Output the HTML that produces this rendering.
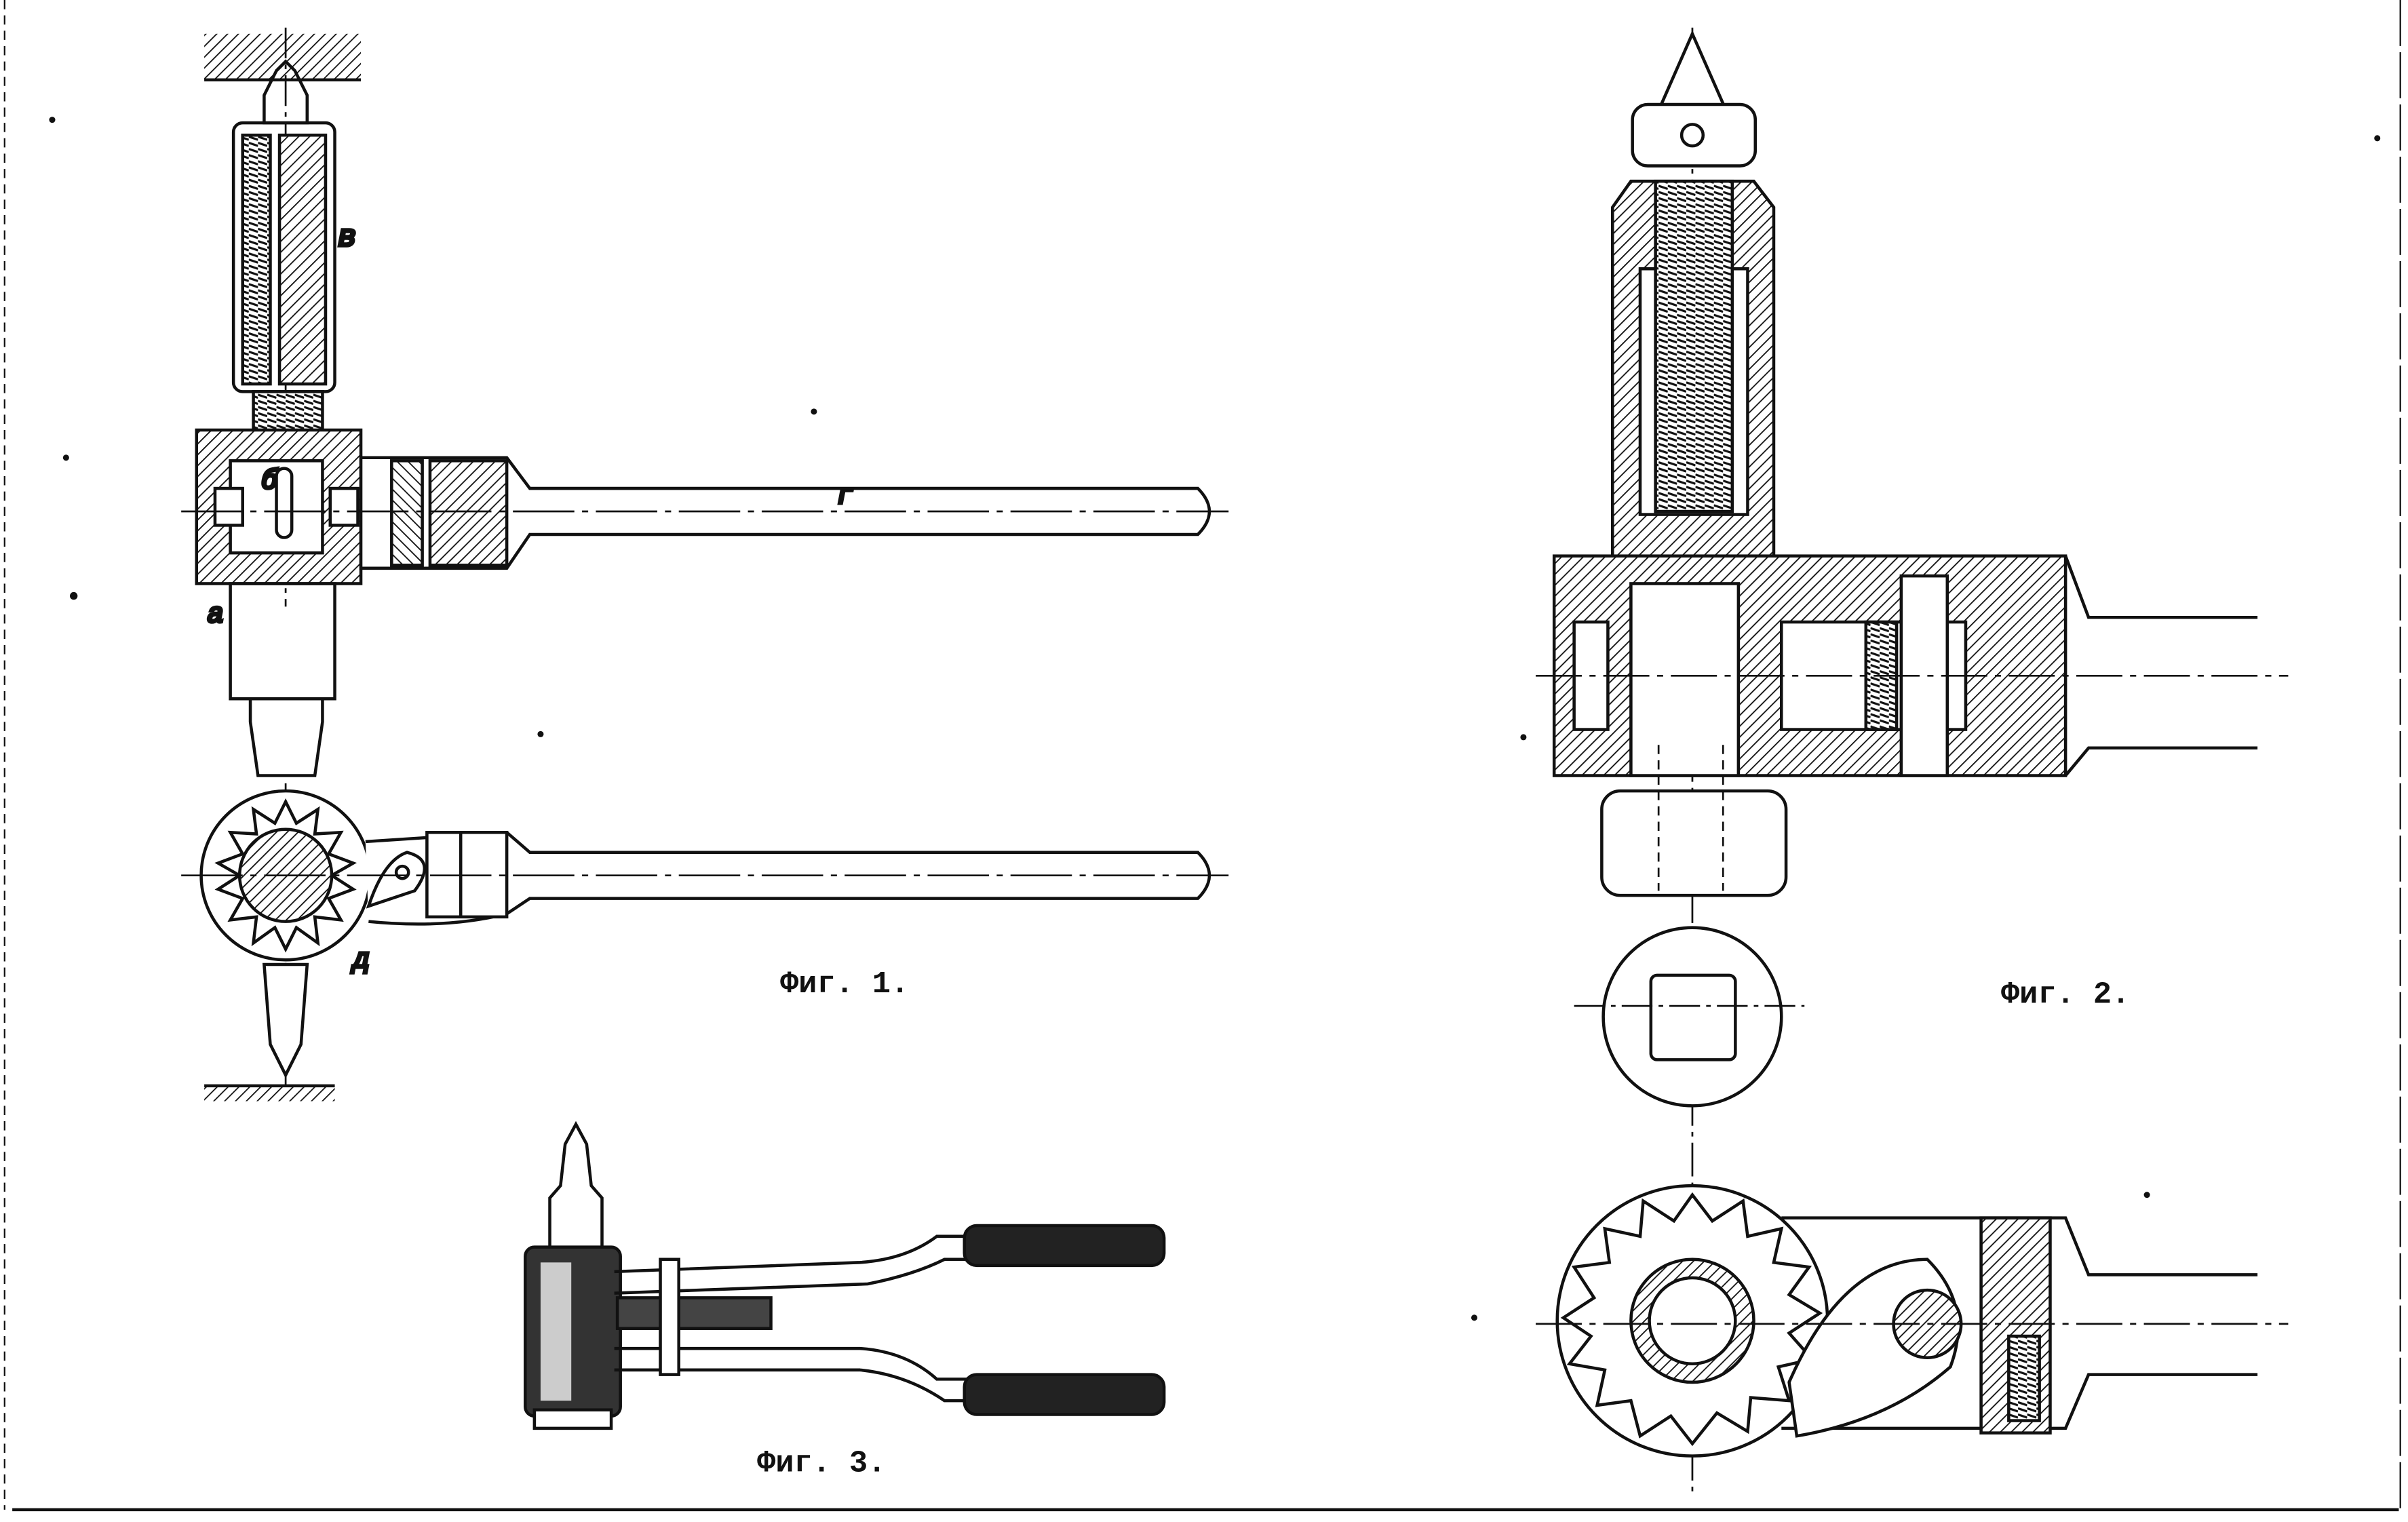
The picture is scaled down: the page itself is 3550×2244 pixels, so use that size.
<!DOCTYPE html>
<html><head><meta charset="utf-8">
<style>
html,body{margin:0;padding:0;background:#fff;}
svg{display:block;}
text{font-family:"Liberation Mono","DejaVu Sans Mono",monospace;fill:#111;}
</style></head>
<body>
<svg width="3550" height="2244" viewBox="0 0 1568 991" preserveAspectRatio="none" xmlns="http://www.w3.org/2000/svg">
<defs>
<pattern id="h" width="5" height="5" patternUnits="userSpaceOnUse" patternTransform="rotate(45)">
<rect width="5" height="5" fill="#fff"/><line x1="0" y1="0" x2="0" y2="5" stroke="#111" stroke-width="1.6"/>
</pattern>
<pattern id="h2" width="5" height="5" patternUnits="userSpaceOnUse" patternTransform="rotate(-45)">
<rect width="5" height="5" fill="#fff"/><line x1="0" y1="0" x2="0" y2="5" stroke="#111" stroke-width="1.6"/>
</pattern>
<pattern id="th" width="6" height="4" patternUnits="userSpaceOnUse">
<rect width="6" height="4" fill="#fff"/><line x1="0" y1="1" x2="6" y2="3" stroke="#111" stroke-width="1.4"/>
</pattern>
</defs>
<rect width="1568" height="991" fill="#fff"/>
<g fill="none" stroke="#111" stroke-width="2">
<!-- border -->
<line x1="8" y1="983" x2="1562" y2="983"/>
<line x1="3" y1="0" x2="3" y2="983" stroke-dasharray="6 4" stroke-width="1"/>
<line x1="1563" y1="0" x2="1563" y2="983" stroke-dasharray="30 4" stroke-width="1"/>

<!-- ===== FIG 1 top ===== -->
<rect x="133" y="22" width="102" height="30" fill="url(#h)" stroke="none"/>
<line x1="133" y1="52" x2="235" y2="52"/>
<line x1="186" y1="18" x2="186" y2="395" stroke-dasharray="20 4 3 4" stroke-width="1.2"/>
<path d="M180 46 L186 40 L192 46 L200 62 L200 80 L172 80 L172 62 Z"/>
<rect x="152" y="80" width="66" height="175" rx="6"/>
<rect x="158" y="88" width="18" height="162" fill="url(#th)"/>
<rect x="182" y="88" width="30" height="162" fill="url(#h)"/>
<rect x="165" y="255" width="45" height="28" fill="url(#th)"/>
<text x="220" y="160" font-size="20" font-style="italic">в</text>
<rect x="128" y="280" width="107" height="100" fill="url(#h)"/>
<rect x="150" y="300" width="60" height="60" fill="#fff"/>
<rect x="140" y="318" width="18" height="24" fill="#fff"/>
<rect x="215" y="318" width="18" height="24" fill="#fff"/>
<rect x="180" y="305" width="10" height="45" rx="5" fill="#fff"/>
<text x="170" y="318" font-size="18" font-style="italic">б</text>
<path d="M235 298 L330 298 L345 318 L780 318 Q795 333 780 348 L345 348 L330 370 L235 370 Z" fill="#fff"/>
<rect x="280" y="300" width="50" height="68" fill="url(#h)"/>
<rect x="255" y="300" width="20" height="68" fill="url(#h2)"/>
<line x1="118" y1="333" x2="800" y2="333" stroke-dasharray="40 5 4 5" stroke-width="1.2"/>
<text x="545" y="328" font-size="18" font-style="italic">г</text>
<path d="M150 380 L218 380 L218 455 L150 455 Z"/>
<path d="M163 455 L163 470 L168 505 L205 505 L210 470 L210 455"/>
<text x="135" y="405" font-size="18" font-style="italic">а</text>

<!-- FIG 1 lower -->
<line x1="186" y1="510" x2="186" y2="715" stroke-dasharray="20 4 3 4" stroke-width="1.2"/>
<circle cx="186" cy="570" r="55" fill="#fff"/>
<polygon points="186,522 193,536 207,527 205,543 222,542 214,556 230,562 216,570 230,579 214,585 222,599 205,597 207,614 193,604 186,618 179,604 165,614 167,597 150,599 158,585 142,579 156,570 142,562 158,556 150,542 167,543 165,527 179,536" fill="#fff"/>
<circle cx="186" cy="570" r="30" fill="url(#h)"/>
<path d="M238 548 L330 542 L345 555 L780 555 Q795 570 780 585 L345 585 L330 595 Q290 605 240 600" fill="#fff"/>
<path d="M240 590 Q250 560 265 555 Q285 560 270 580 Z" fill="#fff"/>
<circle cx="262" cy="568" r="4"/>
<rect x="278" y="542" width="52" height="55" fill="#fff"/>
<line x1="300" y1="542" x2="300" y2="597"/>
<line x1="118" y1="570" x2="800" y2="570" stroke-dasharray="40 5 4 5" stroke-width="1.2"/>
<text x="230" y="630" font-size="18" font-style="italic">д</text>
<path d="M172 628 L200 628 L196 680 L186 700 L176 680 Z" fill="#fff"/>
<rect x="133" y="707" width="85" height="10" fill="url(#h)" stroke="none"/>
<line x1="133" y1="707" x2="218" y2="707"/>
<text x="508" y="646" font-size="20" font-weight="bold" stroke="none">Фиг. 1.</text>

<!-- ===== FIG 2 ===== -->
<line x1="1102" y1="18" x2="1102" y2="975" stroke-dasharray="22 4 3 4" stroke-width="1.2"/>
<path d="M1102 22 L1080 72 L1124 72 Z" fill="#fff"/>
<rect x="1063" y="68" width="80" height="40" rx="10" fill="#fff"/>
<circle cx="1102" cy="88" r="7"/>
<path d="M1050 135 L1062 118 L1142 118 L1155 135 L1155 365 L1050 365 Z" fill="url(#h)"/>
<rect x="1068" y="175" width="70" height="160" fill="#fff"/>
<rect x="1078" y="118" width="50" height="215" fill="url(#th)"/>
<rect x="1012" y="362" width="333" height="143" fill="url(#h)"/>
<rect x="1025" y="405" width="22" height="70" fill="#fff"/>
<rect x="1160" y="405" width="120" height="70" fill="#fff"/>
<rect x="1215" y="405" width="20" height="70" fill="url(#th)"/>
<rect x="1238" y="375" width="30" height="130" fill="#fff"/>
<rect x="1062" y="380" width="70" height="125" fill="#fff"/>
<path d="M1345 362 L1360 402 L1470 402 M1345 505 L1360 487 L1470 487" />
<line x1="1000" y1="440" x2="1490" y2="440" stroke-dasharray="30 5 4 5" stroke-width="1.2"/>
<rect x="1043" y="515" width="120" height="68" rx="12" fill="#fff"/>
<path d="M1080 485 L1080 580 M1122 485 L1122 580" stroke-dasharray="6 4" stroke-width="1.2"/>
<circle cx="1102" cy="662" r="58" fill="#fff"/>
<rect x="1075" y="635" width="55" height="55" rx="4"/>
<line x1="1025" y1="655" x2="1175" y2="655" stroke-dasharray="20 4 3 4" stroke-width="1.2"/>
<text x="1303" y="653" font-size="20" font-weight="bold" stroke="none">Фиг. 2.</text>

<!-- FIG 2 lower -->
<circle cx="1102" cy="860" r="88" fill="#fff"/>
<polygon points="1102,778 1115,795 1135,782 1138,805 1160,800 1155,822 1178,825 1165,843 1185,855 1165,868 1180,885 1158,890 1165,912 1140,910 1138,932 1118,920 1102,940 1088,922 1068,935 1062,912 1040,915 1045,892 1022,888 1036,870 1018,858 1038,845 1025,825 1048,822 1045,800 1068,805 1070,782 1090,795" fill="#fff"/>
<circle cx="1102" cy="860" r="40" fill="url(#h)"/>
<circle cx="1102" cy="860" r="28" fill="#fff"/>
<path d="M1160 793 L1345 793 L1360 830 L1470 830 M1160 930 L1345 930 L1360 895 L1470 895"/>
<path d="M1165 900 Q1200 820 1255 820 Q1285 850 1270 890 Q1230 925 1170 935 Z" fill="#fff"/>
<circle cx="1255" cy="862" r="22" fill="url(#h)"/>
<rect x="1290" y="793" width="45" height="140" fill="url(#h)"/>
<rect x="1308" y="870" width="20" height="55" fill="url(#th)"/>
<line x1="1000" y1="862" x2="1490" y2="862" stroke-dasharray="30 5 4 5" stroke-width="1.2"/>

<!-- ===== FIG 3 ===== -->
<path d="M368 745 L375 732 L382 745 L385 772 L392 780 L392 815 L358 815 L358 780 L365 772 Z" fill="#fff"/>
<rect x="342" y="812" width="62" height="110" rx="6" fill="#333"/>
<rect x="352" y="822" width="20" height="90" fill="#ccc" stroke="none"/>
<rect x="348" y="918" width="50" height="12" fill="#fff"/>
<path d="M400 828 L560 822 Q590 820 610 805 L640 805 M400 842 L565 836 Q595 830 615 820 L640 820" />
<rect x="628" y="798" width="130" height="26" rx="8" fill="#222"/>
<path d="M400 878 L560 878 Q590 880 610 898 L640 898 M400 892 L560 892 Q590 895 615 912 L640 912"/>
<rect x="628" y="895" width="130" height="26" rx="8" fill="#222"/>
<rect x="402" y="845" width="100" height="20" fill="#444"/>
<rect x="430" y="820" width="12" height="75" fill="#fff"/>
<text x="493" y="958" font-size="20" font-weight="bold" stroke="none">Фиг. 3.</text>
</g>
<g fill="#111">
<circle cx="34" cy="78" r="2"/><circle cx="530" cy="268" r="2"/><circle cx="43" cy="298" r="2"/>
<circle cx="48" cy="388" r="2.5"/><circle cx="352" cy="478" r="2"/><circle cx="1548" cy="90" r="2"/>
<circle cx="992" cy="480" r="2"/><circle cx="1398" cy="778" r="2"/><circle cx="960" cy="858" r="2"/>
</g>
</svg>
</body></html>
